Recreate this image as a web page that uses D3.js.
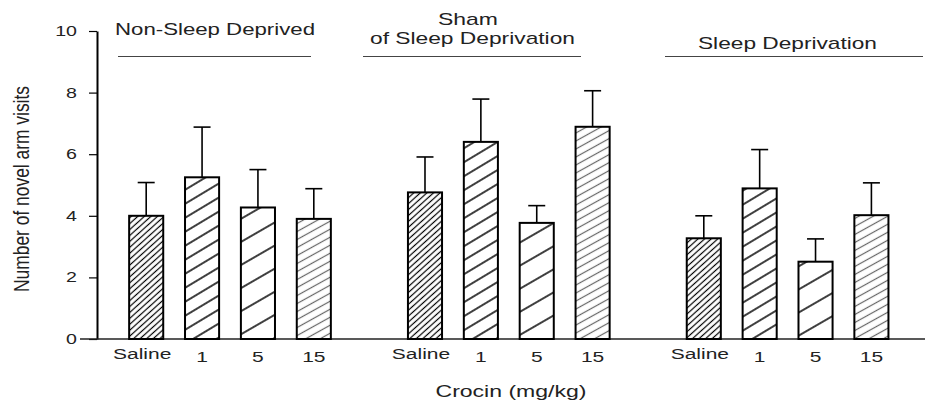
<!DOCTYPE html>
<html>
<head>
<meta charset="utf-8">
<script src="https://cdn.jsdelivr.net/npm/d3@7"></script>
<style>
  body { margin: 0; background: #fff; }
  svg { font-family: "Liberation Sans", Arial, sans-serif; }
</style>
</head>
<body>
<div class="canvas"></div>
<script>
const width = 925;
const height = 400;

// Data
const groups = ["Non-Sleep Deprived", "Sham of Sleep Deprivation", "Sleep Deprivation"];
const doses = ["Saline", "1", "5", "15"];
const meanNonSD = [4.0, 5.25, 4.27, 3.9];
const meanSham = [4.76, 6.4, 3.77, 6.89];
const meanSD = [3.27, 4.89, 2.51, 4.02];
const semNonSD = [1.08, 1.63, 1.23, 0.98];
const semSham = [1.15, 1.39, 0.56, 1.17];
const semSD = [0.73, 1.26, 0.74, 1.05];
const yTicks = [0, 2, 4, 6, 8, 10];
const titleLines = [["Non-Sleep Deprived"], ["Sham", "of Sleep Deprivation"], ["Sleep Deprivation"]];

const means = [meanNonSD, meanSham, meanSD];
const sems = [semNonSD, semSham, semSD];
const data = [];
groups.forEach((g, gi) => {
  doses.forEach((d, di) => {
    data.push({ group: g, dose: d, mean: means[gi][di], sem: sems[gi][di] });
  });
});

// the source picture is stretched horizontally
const stretch = 1.4;

// Scales
const x0 = d3.scaleBand().domain(groups).range([90.6, 927]);
const x1 = d3.scaleBand().domain(doses).range([0, x0.bandwidth()])
  .paddingInner(0.39).paddingOuter(0.69);
const y = d3.scaleLinear().domain([0, 10]).range([339, 31]);

const svg = d3.select(".canvas").append("svg")
  .attr("width", width)
  .attr("height", height);

// Hatch patterns
const hatch = [
  { dose: "Saline", angle: 42, gap: 4.4, color: "#000", w: 1.2 },
  { dose: "1", angle: 31, gap: 12, color: "#000", w: 1.5 },
  { dose: "5", angle: 30, gap: 20, color: "#000", w: 1.5 },
  { dose: "15", angle: 29, gap: 7, color: "#666", w: 1.2 }
];
const defs = svg.append("defs");
hatch.forEach((h, i) => {
  const p = defs.append("pattern")
    .attr("id", "hatch" + i)
    .attr("patternUnits", "userSpaceOnUse")
    .attr("width", 10)
    .attr("height", h.gap)
    .attr("patternTransform", `rotate(${-h.angle})`);
  p.append("rect").attr("width", 10).attr("height", h.gap).attr("fill", "#fff");
  p.append("line")
    .attr("x1", 0).attr("x2", 10)
    .attr("y1", h.gap / 2).attr("y2", h.gap / 2)
    .attr("stroke", h.color)
    .attr("stroke-width", h.w);
});
const fillFor = d => `url(#hatch${doses.indexOf(d.dose)})`;

// Y axis
const yAxis = d3.axisLeft(y).tickValues(yTicks).tickSize(8).tickSizeOuter(0);
const gy = svg.append("g")
  .attr("transform", "translate(97,0)")
  .call(yAxis);
gy.select(".domain").attr("stroke-width", 2);
gy.selectAll(".tick line").attr("stroke-width", 1.2);
gy.selectAll(".tick text")
  .attr("font-size", 14)
  .attr("font-family", "Liberation Sans, Arial, sans-serif")
  .attr("fill", "#222")
  .attr("x", -20 / stretch)
  .attr("transform", `scale(${stretch},1)`);

// Baseline
svg.append("line")
  .attr("x1", 80).attr("x2", 925)
  .attr("y1", y(0)).attr("y2", y(0))
  .attr("stroke", "#222")
  .attr("stroke-width", 1.3);

// X axes (one per group)
const xAxis = d3.axisBottom(x1).tickSize(0).tickPadding(12.5);
groups.forEach(g => {
  const gx = svg.append("g")
    .attr("transform", `translate(${x0(g)},${y(0)})`)
    .call(xAxis);
  gx.select(".domain").remove();
  gx.selectAll(".tick text")
    .attr("font-size", 15)
    .attr("font-family", "Liberation Sans, Arial, sans-serif")
    .attr("fill", "#222")
    .attr("transform", `scale(${stretch},1)`)
    .attr("x", d => (d === "Saline" ? -4 / stretch : 0))
    .attr("y", d => (d === "Saline" ? 9.5 : 12.5));
});

// Error bars
const barX = d => x0(d.group) + x1(d.dose);
const cx = d => barX(d) + x1.bandwidth() / 2;
const err = svg.append("g").attr("stroke", "#000").attr("stroke-width", 1.6);
err.selectAll(".stem")
  .data(data)
  .enter()
  .append("line")
  .attr("x1", cx).attr("x2", cx)
  .attr("y1", d => y(d.mean))
  .attr("y2", d => y(d.mean + d.sem));
err.selectAll(".cap")
  .data(data)
  .enter()
  .append("line")
  .attr("x1", d => cx(d) - 8.5).attr("x2", d => cx(d) + 8.5)
  .attr("y1", d => y(d.mean + d.sem))
  .attr("y2", d => y(d.mean + d.sem));

// Bars
svg.selectAll(".bar")
  .data(data)
  .enter()
  .append("rect")
  .attr("class", "bar")
  .attr("x", barX)
  .attr("y", d => y(d.mean))
  .attr("width", x1.bandwidth())
  .attr("height", d => y(0) - y(d.mean))
  .attr("fill", fillFor)
  .attr("stroke", "#000")
  .attr("stroke-width", 2);

// Group titles
const titleLayout = [
  { line: [118, 311], text: [{ x: 215, y: 35, w: 200 }] },
  { line: [363, 581], text: [{ x: 468, y: 25, w: 60 }, { x: 472.5, y: 43.5, w: 205 }] },
  { line: [665, 923], text: [{ x: 787.5, y: 49, w: 179 }] }
];
titleLines.forEach((lines, gi) => {
  const lay = titleLayout[gi];
  svg.append("line")
    .attr("x1", lay.line[0]).attr("x2", lay.line[1])
    .attr("y1", 56.5).attr("y2", 56.5)
    .attr("stroke", "#444")
    .attr("stroke-width", 1.2);
  lines.forEach((t, li) => {
    const p = lay.text[li];
    svg.append("text")
      .attr("x", p.x)
      .attr("y", p.y)
      .attr("text-anchor", "middle")
      .attr("font-size", 17)
      .attr("fill", "#222")
      .attr("textLength", p.w)
      .attr("lengthAdjust", "spacingAndGlyphs")
      .text(t);
  });
});

// Axis titles
svg.append("text")
  .attr("x", 511)
  .attr("y", 397)
  .attr("text-anchor", "middle")
  .attr("font-size", 16)
  .attr("fill", "#222")
  .attr("textLength", 151)
  .attr("lengthAdjust", "spacingAndGlyphs")
  .text("Crocin (mg/kg)");

svg.append("text")
  .attr("transform", `translate(29,189) scale(${stretch},1) rotate(-90)`)
  .attr("text-anchor", "middle")
  .attr("font-size", 16)
  .attr("fill", "#222")
  .attr("textLength", 206)
  .attr("lengthAdjust", "spacingAndGlyphs")
  .text("Number of novel arm visits");
</script>
</body>
</html>
